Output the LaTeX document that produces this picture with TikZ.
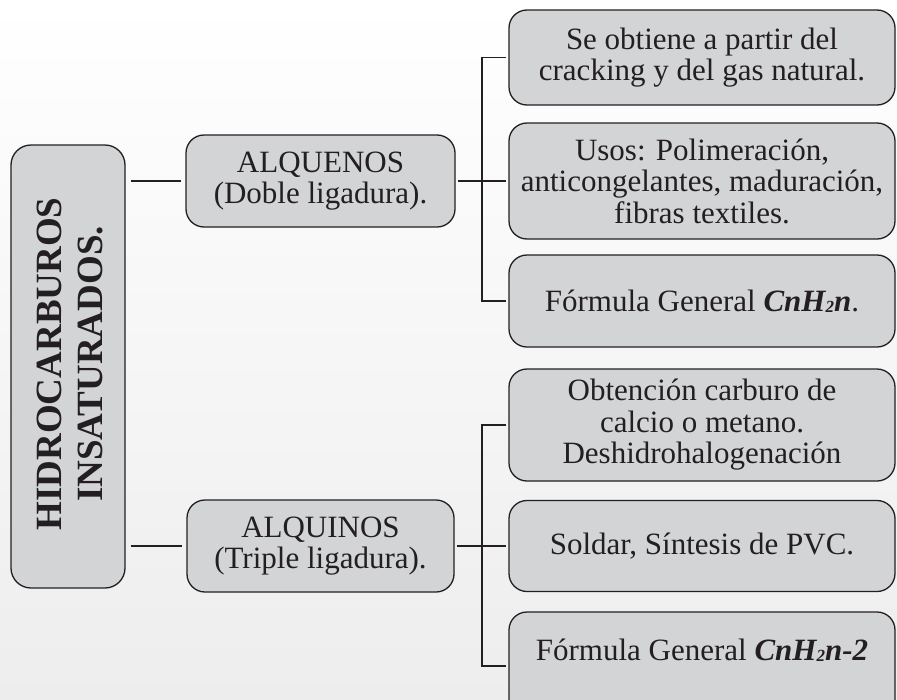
\documentclass[tikz,border=0pt]{standalone}
\usepackage{fontspec}
\setmainfont{Liberation Serif}
\definecolor{ink}{HTML}{231F20}
\definecolor{boxfill}{HTML}{D3D4D6}
\newcommand{\subtwo}{\raisebox{-1pt}{\fontsize{17}{17}\selectfont 2}}
\tikzset{
  box/.style={draw=ink, line width=1.3pt, fill=boxfill, rounded corners=18pt,
    align=center, inner sep=0pt, text=ink, font=\fontsize{31}{31.5}\selectfont},
  link/.style={draw=ink, line width=1.1pt},
}
\begin{document}
\begin{tikzpicture}[x=1pt,y=-1pt]
\useasboundingbox (0,0) rectangle (897,699);
\shade[top color=white, bottom color=black!7] (0,0) rectangle (897,699);

% root
\node[box, minimum width=114, minimum height=443, rounded corners=20pt] (root) at (68,366.5) {};
\node[rotate=90, align=center, inner sep=0pt, text=ink,
      font=\bfseries\fontsize{37}{41}\selectfont] (roottxt) at (70,364) {HIDROCARBUROS\\INSATURADOS.};

% second level
\node[box, minimum width=269, minimum height=92] (alqe) at (320.5,181) {ALQUENOS\\(Doble ligadura).};
\node[box, minimum width=267, minimum height=92] (alqi) at (320.5,546) {ALQUINOS\\(Triple ligadura).};

% children of ALQUENOS
\node[box, minimum width=386, minimum height=95] (c1) at (702,57.5) {Se obtiene a partir del\\cracking y del gas natural.};
\node[box, minimum width=386, minimum height=116] (c2) at (702,181) {Usos: Polimeración,\\anticongelantes, maduración,\\fibras textiles.};
\node[box, minimum width=386, minimum height=92] (c3) at (702,301) {Fórmula General \textbf{\textit{CnH\subtwo n}}.};

% children of ALQUINOS
\node[box, minimum width=386, minimum height=112] (c4) at (702,425) {Obtención carburo de\\calcio o metano.\\Deshidrohalogenación};
\node[box, minimum width=386, minimum height=91] (c5) at (702,546) {Soldar, Síntesis de PVC.};
\node[box, minimum width=386, text height=48pt, text depth=60pt] (c6) at (702,666) {Fórmula General \textbf{\textit{CnH\subtwo n-2}}};

% trunk coordinates
\coordinate (t1) at (482,181);
\coordinate (t2) at (482,546);

% connectors root -> second level
\draw[link, shorten <=5pt, shorten >=4pt] (alqe.west -| root.east) -- (alqe.west);
\draw[link, shorten <=5pt, shorten >=4pt] (alqi.west -| root.east) -- (alqi.west);

% ALQUENOS branch
\draw[link, shorten <=2pt, shorten >=2pt] (alqe.east) -- (c2.west);
\draw[link] ([xshift=-2pt]c1.west) -| (t1 |- c3.west) -- ([xshift=-2pt]c3.west);

% ALQUINOS branch
\draw[link, shorten <=2pt, shorten >=2pt] (alqi.east) -- (c5.west);
\draw[link] ([xshift=-2pt]c4.west) -| (t2 |- c6.west) -- ([xshift=-2pt]c6.west);
\end{tikzpicture}
\end{document}
